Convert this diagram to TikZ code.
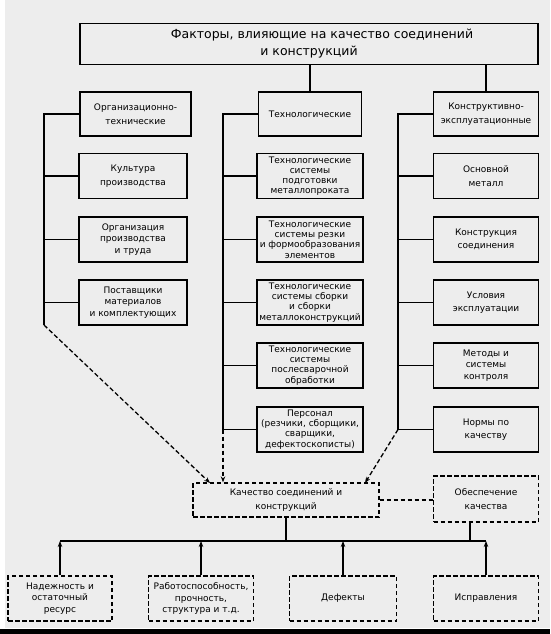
\documentclass[tikz,border=0pt]{standalone}
\usepackage{fontspec}
\setmainfont{DejaVu Sans}
\usetikzlibrary{arrows.meta,calc}
\definecolor{bg}{HTML}{EDEDED}
\begin{document}
\begin{tikzpicture}[x=1pt,y=-1pt,
  sbox/.style={draw=black, line width=1.3pt, align=center, inner sep=0pt, text=black},
  dbox/.style={sbox, dash pattern=on 4.5pt off 2.5pt},
  hdr/.style={sbox, minimum height=44pt},
  colbox/.style={sbox, minimum height=45pt},
  lsa/.style={font=\fontsize{9}{13.5}\selectfont},
  lsb/.style={font=\fontsize{9}{11.5}\selectfont},
  lsc/.style={font=\fontsize{9}{10.2}\selectfont},
  conn/.style={line width=1.4pt},
  dline/.style={line width=1.3pt, dash pattern=on 4.5pt off 2.5pt},
  dconn/.style={dline, -{Stealth[length=6pt,width=4.5pt]}},
  upconn/.style={line width=1.5pt, -{Stealth[length=6pt,width=4.5pt]}}
]
\useasboundingbox (0,0) rectangle (550,634);
\fill[white] (0,0) rectangle (550,634);
\fill[bg] (5,0) rectangle (550,628);
\fill[black] (0,629) rectangle (550,634);

% title
\node[sbox, minimum width=458pt, minimum height=41pt, font=\fontsize{12.5}{17}\selectfont] (top) at (309,44) {\hspace*{26pt}Факторы, влияющие на качество соединений\\и конструкций};

% headers
\node[hdr, lsa, minimum width=111pt] (h1) at (135.5,114) {Организационно-\\технические};
\node[hdr, lsa, minimum width=103pt] (h2) at (310,114) {Технологические};
\node[hdr, lsa, minimum width=105pt] (h3) at (486,114) {Конструктивно-\\эксплуатационные};

% left column
\node[colbox, lsa, minimum width=108pt] (l1) at (133,176) {Культура\\производства};
\node[colbox, lsb, minimum width=108pt] (l2) at (133,239.5) {Организация\\производства\\и труда};
\node[colbox, lsb, minimum width=108pt] (l3) at (133,302.5) {Поставщики\\материалов\\и комплектующих};

% middle column
\node[colbox, lsc, minimum width=106pt] (m1) at (310,176) {Технологические\\системы\\подготовки\\металлопроката};
\node[colbox, lsc, minimum width=106pt] (m2) at (310,239.5) {Технологические\\системы резки\\и формообразования\\элементов};
\node[colbox, lsc, minimum width=106pt] (m3) at (310,302.5) {Технологические\\системы сборки\\и сборки\\металлоконструкций};
\node[colbox, lsc, minimum width=106pt] (m4) at (310,365.5) {Технологические\\системы\\послесварочной\\обработки};
\node[colbox, lsc, minimum width=106pt] (m5) at (310,429.5) {Персонал\\(резчики, сборщики,\\сварщики,\\дефектоскописты)};

% right column
\node[colbox, lsa, minimum width=105pt] (r1) at (486,176) {Основной\\металл};
\node[colbox, lsa, minimum width=105pt] (r2) at (486,239.5) {Конструкция\\соединения};
\node[colbox, lsa, minimum width=105pt] (r3) at (486,302.5) {Условия\\эксплуатации};
\node[colbox, lsb, minimum width=105pt] (r4) at (486,365.5) {Методы и\\системы\\контроля};
\node[colbox, lsa, minimum width=105pt] (r5) at (486,429.5) {Нормы по\\качеству};

% quality
\node[dbox, lsa, minimum width=186pt, minimum height=34pt] (kach) at (286,500) {Качество соединений и\\конструкций};
\node[dbox, lsa, minimum width=105pt, minimum height=46pt] (obesp) at (486,499) {Обеспечение\\качества};

% bottom
\node[dbox, lsb, minimum width=104pt, minimum height=45pt] (b1) at (60,598.5) {Надежность и\\остаточный\\ресурс};
\node[dbox, lsb, minimum width=105pt, minimum height=45pt] (b2) at (201,598.5) {Работоспособность,\\прочность,\\структура и т.д.};
\node[dbox, lsb, minimum width=107pt, minimum height=45pt] (b3) at (343,598.5) {Дефекты};
\node[dbox, lsb, minimum width=105pt, minimum height=45pt] (b4) at (486,598.5) {Исправления};

% top connectors
\draw[conn] ($(h1.north)+(-3,0)$) -- ($(h1.north)+(-3,0)$ |- top.south);
\draw[conn] (h2.north) -- (h2.north |- top.south);
\draw[conn] (h3.north) -- (h3.north |- top.south);

% buses
\coordinate (lb1) at (44,114);
\coordinate (lb2) at (44,325);
\coordinate (mb1) at (223,114);
\coordinate (mb2) at (223,429.5);
\coordinate (rb1) at (398,114);
\coordinate (rb2) at (398,429.5);
\draw[conn] (h1.west) -- (lb1) -- (lb2);
\draw[conn] (h2.west) -- (mb1) -- (mb2);
\draw[conn] (h3.west) -- (rb1) -- (rb2);
\foreach \n in {l1,l2,l3} \draw[conn] (\n.west) -- (\n.west -| lb1);
\foreach \n in {m1,m2,m3,m4,m5} \draw[conn] (\n.west) -- (\n.west -| mb1);
\foreach \n in {r1,r2,r3,r4,r5} \draw[conn] (\n.west) -- (\n.west -| rb1);

% dashed arrows into quality
\coordinate (ka1) at (210,483);
\coordinate (ka3) at (365,483);
\draw[dconn] (lb2) -- (ka1);
\draw[dconn] (mb2) -- (mb2 |- kach.north);
\draw[dconn] (rb2) -- (ka3);
\draw[dline] (kach.east) -- (kach.east -| obesp.west);

% bottom bus
\coordinate (hL) at (60,541);
\coordinate (hR) at (486,541);
\coordinate (ob) at (470,522);
\draw[conn] (hL) -- (hR);
\draw[conn] (kach.south) -- (kach.south |- hL);
\draw[conn] (ob) -- (ob |- hL);
\foreach \n in {b1,b2,b3,b4} \draw[upconn] (\n.north) -- (\n.north |- hL);
\end{tikzpicture}
\end{document}
